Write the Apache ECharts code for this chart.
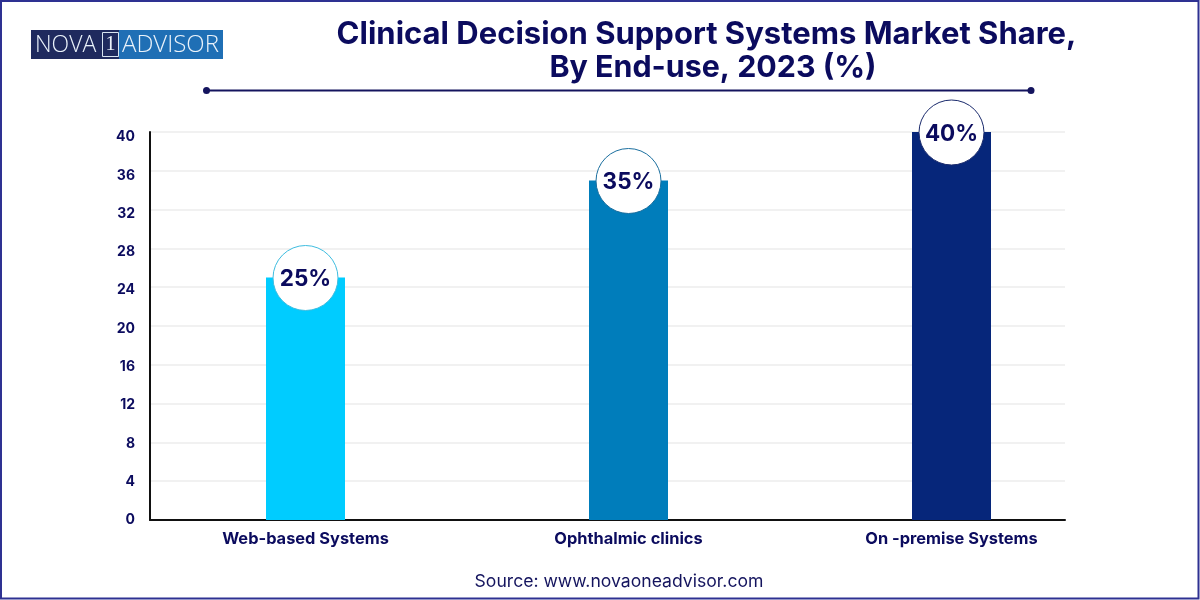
<!DOCTYPE html>
<html><head><meta charset="utf-8">
<style>html,body{margin:0;padding:0;background:#fff}#c{width:1200px;height:600px}</style>
<script src="https://cdn.jsdelivr.net/npm/echarts@6/dist/echarts.min.js"></script>
</head><body><div id="c"></div>
<script>
const categories = ["Web-based Systems", "Ophthalmic clinics", "On -premise Systems"];
const shares = [25, 35, 40];
const barColors = ["#00CCFF", "#007DBB", "#06267A"];
const ringColors = ["#3FBDE0", "#1B6F9F", "#1A2A6C"];
const yMax = 40, yStep = 4;
const navy = "#0B0B5E";
const inter = 'Inter, "Liberation Sans", Arial, sans-serif';

const chart = echarts.init(document.getElementById('c'), null, {renderer:'canvas'});
chart.setOption({
  animation:false,
  backgroundColor:'#fff',
  title:[
    {text:"Clinical Decision Support Systems Market Share,",left:701.5,top:14,textAlign:'center',
      textStyle:{fontFamily:inter,fontWeight:700,fontSize:31,color:navy}},
    {text:"By End-use, 2023 (%)",left:708,top:48,textAlign:'center',
      textStyle:{fontFamily:inter,fontWeight:700,fontSize:30.4,color:navy}}
  ],
  grid:[
    {left:150,top:132,width:915,height:388},   // axis frame + grid lines
    {left:144,top:132,width:969,height:388},   // bars
    {left:150,top:137,width:915,height:383}    // y tick labels
  ],
  xAxis:[
    {gridIndex:0,type:'category',data:categories,axisLine:{lineStyle:{color:'#111',width:2}},axisTick:{show:false},axisLabel:{show:false}},
    {gridIndex:1,type:'category',data:categories,axisLine:{show:false},axisTick:{show:false},
      axisLabel:{margin:11,fontFamily:inter,fontWeight:700,fontSize:16.4,color:navy}},
    {gridIndex:2,type:'category',data:categories,show:false}
  ],
  yAxis:[
    {gridIndex:0,type:'value',min:0,max:yMax,interval:yStep,axisLine:{show:true,lineStyle:{color:'#111',width:2}},axisTick:{show:false},axisLabel:{show:false},
      splitLine:{lineStyle:{color:'#F1F1F1',width:2}}},
    {gridIndex:1,type:'value',min:0,max:yMax,interval:yStep,show:false},
    {gridIndex:2,type:'value',min:0,max:yMax,interval:yStep,axisLine:{show:false},axisTick:{show:false},splitLine:{show:false},
      axisLabel:{margin:15,fontFamily:inter,fontWeight:700,fontSize:14,color:navy}}
  ],
  series:[
    {type:'bar',xAxisIndex:1,yAxisIndex:1,barWidth:79,z:3,
      data:shares.map((v,i)=>({value:v,itemStyle:{color:barColors[i]}}))},
    {type:'scatter',xAxisIndex:1,yAxisIndex:1,symbol:'circle',symbolSize:65,symbolOffset:[0,0.5],z:5,
      data:shares.map((v,i)=>({value:v,itemStyle:{color:'#fff',opacity:1,borderColor:ringColors[i],borderWidth:1}})),
      label:{show:true,position:'inside',offset:[0,1.5],formatter:p=>p.value+'%',fontFamily:inter,fontWeight:700,fontSize:22.5,color:navy}}
  ],
  graphic:[
    {type:'rect',z:100,shape:{x:1,y:1,width:1197.5,height:597.5},style:{fill:'none',stroke:'#2E3192',lineWidth:2}},
    {type:'rect',shape:{x:31,y:30,width:192,height:29},style:{fill:'#1F6FB5'}},
    {type:'rect',shape:{x:31,y:30,width:88,height:29},style:{fill:'#1F2A5E'}},
    {type:'rect',shape:{x:102.5,y:32.5,width:16,height:24},style:{fill:'none',stroke:'#D8E4F0',lineWidth:1}},
    {type:'text',style:{x:35,y:45,text:'NOVA',verticalAlign:'middle',font:'300 23px "Open Sans", sans-serif',fill:'#EAF2FA'}},
    {type:'text',style:{x:110.5,y:45,text:'1',align:'center',verticalAlign:'middle',font:'300 20px "Liberation Serif", serif',fill:'#EAF2FA'}},
    {type:'text',style:{x:122,y:45,text:'ADVISOR',verticalAlign:'middle',font:'300 24px "Open Sans", sans-serif',fill:'#EAF2FA'}},
    {type:'line',shape:{x1:206,y1:90.5,x2:1031,y2:90.5},style:{stroke:'#14145E',lineWidth:2}},
    {type:'circle',shape:{cx:206.5,cy:90.5,r:3.5},style:{fill:'#14145E'}},
    {type:'circle',shape:{cx:1031,cy:90.5,r:3.5},style:{fill:'#14145E'}},
    {type:'text',style:{x:619,y:581.5,text:'Source: www.novaoneadvisor.com',align:'center',verticalAlign:'middle',font:'17.6px Inter, sans-serif',fill:'#14145E'}}
  ]
});
</script></body></html>
